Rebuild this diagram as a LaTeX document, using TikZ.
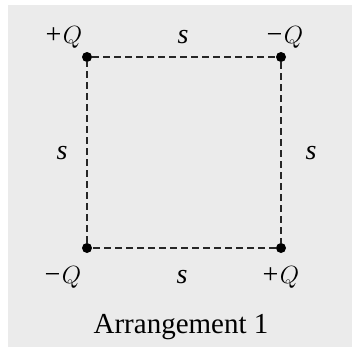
\documentclass[tikz,border=0pt]{standalone}
\usepackage{fontspec}
\setmainfont{Liberation Serif}
\begin{document}
\begin{tikzpicture}[x=1pt,y=-1pt,
  charge/.style={circle,fill=black,inner sep=0pt,minimum size=10pt},
  side/.style={dashed,dash pattern=on 7pt off 4pt,line width=1.8pt,black!85},
  lab/.style={font=\fontsize{28}{30}\selectfont\itshape,inner sep=0pt,anchor=base}]
\useasboundingbox (0,0) rectangle (358,351);
\fill[white] (0,0) rectangle (358,351);
\fill[black!8] (8,5) rectangle (352,347);
\node[charge] (tl) at (87,57) {};
\node[charge] (tr) at (281,57) {};
\node[charge] (bl) at (87,248) {};
\node[charge] (br) at (281,248) {};
\draw[side] (tl) -- (tr);
\draw[side] (tr) -- (br);
\draw[side] (br) -- (bl);
\draw[side] (bl) -- (tl);
\node[lab] (qtl) at (63,43) {+$Q$};
\node[lab] (qtr) at (284,43) {\textminus$Q$};
\node[lab] (qbl) at (62,283) {\textminus$Q$};
\node[lab] (qbr) at (280,283) {+$Q$};
\node[lab] (st) at (183,43) {s};
\node[lab] (sb) at (182,283) {s};
\node[lab] (sl) at (62,159) {s};
\node[lab] (sr) at (311,159) {s};
\node[font=\fontsize{29}{31}\selectfont,inner sep=0pt,anchor=base] (cap) at (181,333) {Arrangement 1};
\end{tikzpicture}
\end{document}
